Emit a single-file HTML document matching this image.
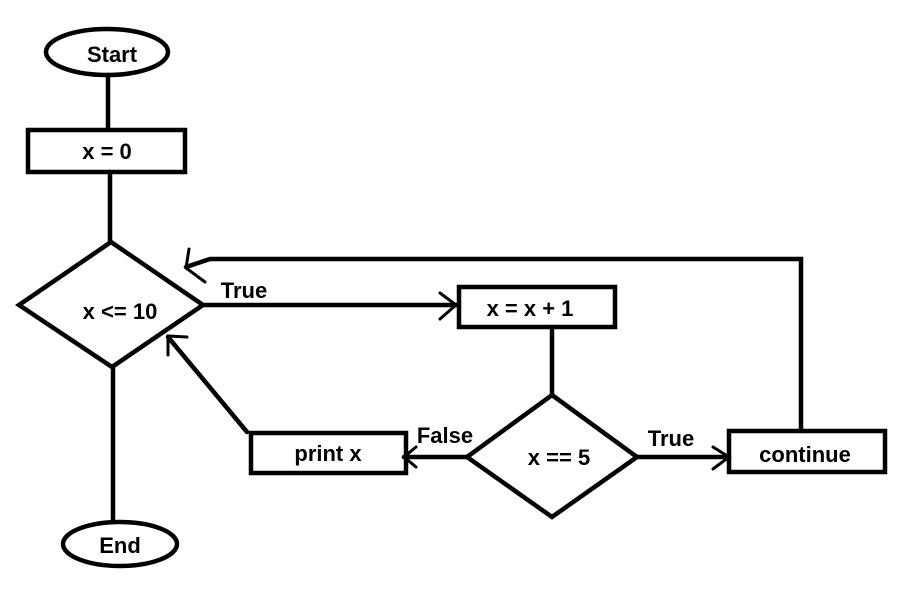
<!DOCTYPE html>
<html><head><style>body{margin:0;background:#fff}svg{display:block}text{font-family:"Liberation Sans",sans-serif;font-weight:bold;font-size:22px;fill:#000}</style></head><body>
<svg width="919" height="596" viewBox="0 0 919 596" xmlns="http://www.w3.org/2000/svg">
<g fill="none" stroke="#000" stroke-width="4.5" stroke-linecap="round" stroke-linejoin="miter">
<ellipse cx="107" cy="52" rx="61" ry="23"/>
<line x1="108" y1="75" x2="108" y2="129"/>
<rect x="28" y="130" width="157" height="42"/>
<line x1="110" y1="172" x2="110" y2="242"/>
<polygon points="111,242 203,305 112,367 19,305"/>
<line x1="113" y1="367" x2="113" y2="520"/>
<ellipse cx="120" cy="544" rx="57" ry="22"/>
<line x1="203" y1="305" x2="456" y2="305"/>
<polyline points="440,293 456,305 440,319" stroke-width="3"/>
<rect x="459" y="287" width="156" height="40"/>
<line x1="552" y1="327" x2="552" y2="395"/>
<polygon points="552,395 637,457 552,517 467,457"/>
<line x1="467" y1="457" x2="404" y2="457"/>
<polyline points="416,447 404,457 416,467" stroke-width="3"/>
<rect x="251" y="433" width="155" height="40"/>
<line x1="247" y1="432" x2="168" y2="337"/>
<polyline points="168,355 168,336 187,337" stroke-width="3"/>
<line x1="637" y1="457" x2="729" y2="457"/>
<polyline points="713,447 729,457 713,469" stroke-width="3"/>
<rect x="729" y="431" width="156" height="41"/>
<polyline points="801,431 801,259 210,259 186,267"/>
<polyline points="189,249 186,268 205,282" stroke-width="3"/>
</g>
<text x="112" y="62" text-anchor="middle">Start</text>
<text x="107" y="159" text-anchor="middle">x = 0</text>
<text x="120" y="319" text-anchor="middle">x &lt;= 10</text>
<text x="120" y="553" text-anchor="middle">End</text>
<text x="244" y="298" text-anchor="middle">True</text>
<text x="530" y="316" text-anchor="middle">x = x + 1</text>
<text x="559" y="465" text-anchor="middle">x == 5</text>
<text x="445" y="443" text-anchor="middle">False</text>
<text x="328" y="461" text-anchor="middle">print x</text>
<text x="671" y="446" text-anchor="middle">True</text>
<text x="805" y="462" text-anchor="middle">continue</text>
</svg>
</body></html>
